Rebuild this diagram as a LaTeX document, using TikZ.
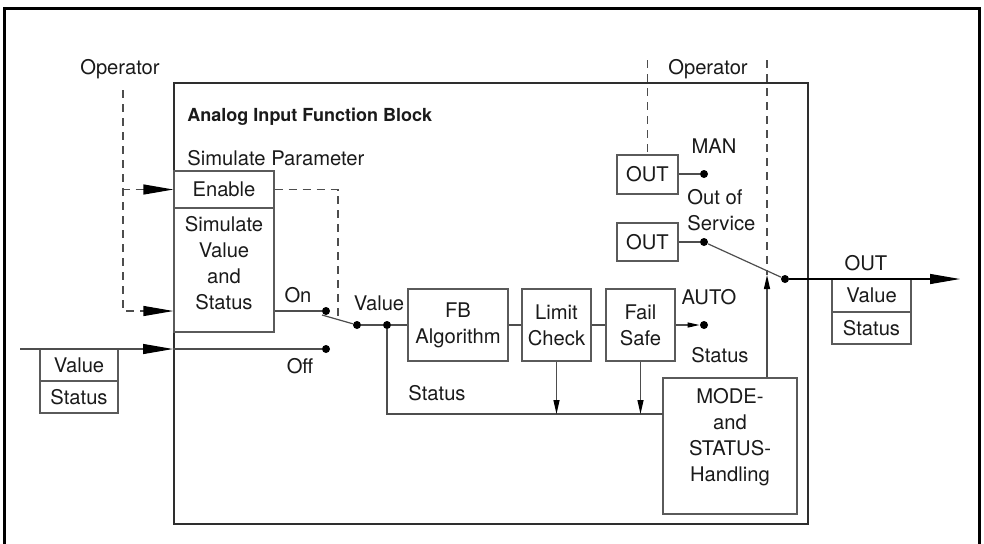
\documentclass[tikz,border=0pt]{standalone}
\usepackage{fontspec}
\setmainfont{TeX Gyre Heros}
\usetikzlibrary{arrows.meta,calc}
\definecolor{linec}{HTML}{4D4D4D}
\definecolor{boxc}{HTML}{5A5A5A}
\definecolor{blkc}{HTML}{2E2E2E}
\definecolor{txt}{HTML}{1A1A1A}
\begin{document}
\begin{tikzpicture}[x=0.5pt,y=-0.5pt,
  font=\fontsize{10.1}{13}\selectfont,
  box/.style={draw=boxc, line width=0.6pt, inner sep=0pt, align=center, text=txt},
  lbl/.style={inner sep=0pt, text=txt, align=center},
  ln/.style={draw=linec, line width=0.6pt},
  dashline/.style={draw=linec, line width=0.6pt, dash pattern=on 4pt off 3pt},
  dotn/.style={circle, fill=black, inner sep=0pt, minimum size=4pt},
  bigarrow/.style={-{Triangle[length=15pt,width=5pt,color=black]}},
  smallarrow/.style={-{Triangle[length=7pt,width=3pt,color=black]}},
  tinyarrow/.style={-{Triangle[length=6pt,width=2.5pt,color=black]}}]
\useasboundingbox (0,0) rectangle (984,543);
% outer frame
\draw[line width=1.5pt] (4,560) -- (4,8) -- (979,8) -- (979,560);
% inner block
\node[draw=blkc, line width=1pt, minimum width=317pt, minimum height=220.5pt, inner sep=0pt] (blk) at (491,303.5) {};
% boxes
\node[box, minimum width=50pt, minimum height=18.5pt] (enable) at (224,189.5) {Enable};
\node[box, minimum width=50pt, minimum height=62pt] (sim) at (224,270) {};
\node[lbl] (simt) at (224,263) {Simulate\\Value\\and\\Status};
\node[box, minimum width=39pt, minimum height=16pt] (inval) at (79,365) {Value};
\node[box, minimum width=39pt, minimum height=16pt] (instat) at (79,397) {Status};
\node[box, minimum width=50pt, minimum height=36pt] (fb) at (458,325) {FB\\Algorithm};
\node[box, minimum width=34.5pt, minimum height=36pt] (lim) at (556.5,325) {Limit\\Check};
\node[box, minimum width=34.5pt, minimum height=36pt] (fail) at (640.5,325) {Fail\\Safe};
\node[box, minimum width=67pt, minimum height=68pt] (mode) at (730,446) {};
\node[lbl] (modet) at (730,437) {MODE-\\and\\STATUS-\\Handling};
\node[box, minimum width=30.5pt, minimum height=19.5pt] (out1) at (647.5,174.5) {OUT};
\node[box, minimum width=30.5pt, minimum height=19pt] (out2) at (647.5,242) {OUT};
\node[box, minimum width=39.5pt, minimum height=16.5pt] (outval) at (871.5,295.5) {Value};
\node[box, minimum width=39.5pt, minimum height=16pt] (outstat) at (871.5,328) {Status};
% labels
\node[lbl, font=\fontsize{9}{11}\selectfont\bfseries, anchor=west] (title) at (187,117) {Analog Input Function Block};
\node[lbl, anchor=west] (simpar) at (187,158) {Simulate Parameter};
\node[lbl] (opl) at (120,69) {Operator};
\node[lbl] (opr) at (708,69) {Operator};
\node[lbl] (onl) at (298,295) {On};
\node[lbl] (offl) at (300,366) {Off};
\node[lbl] (vall) at (379,303) {Value};
\node[lbl] (statl) at (437,393) {Status};
\node[lbl] (manl) at (714,146) {MAN};
\node[lbl, align=left, anchor=west] (oosl) at (687,210) {Out of\\Service};
\node[lbl] (autol) at (709,297) {AUTO};
\node[lbl] (stat2) at (720,355) {Status};
\node[lbl] (outl) at (866,263) {OUT};
% dots
\node[dotn] (don) at (326,311) {};
\node[dotn] (doff) at (326,349) {};
\node[dotn] (dpiv) at (357,325) {};
\node[dotn] (dval) at (387,325) {};
\node[dotn] (dman) at (704,174) {};
\node[dotn] (dsvc) at (704,242) {};
\node[dotn] (dauto) at (704,325) {};
\node[dotn] (dout) at (785,279) {};
% coordinates
\coordinate (inL) at (20,349);
\coordinate (arm1) at (322,315);
\coordinate (sj) at (663,414);
\coordinate (upt) at (767,275);
\coordinate (outT) at (960,279);
\coordinate (opLt) at (123,90);
\coordinate (dsw) at (338,317);
\coordinate (opRa) at (647.5,60);
\coordinate (opRb) at (767,60);
% connectors
\draw[ln] (sim.east |- don) -- (don);
\draw[ln, bigarrow] (inL) -- (blk.west |- doff);
\draw[ln] (blk.west |- doff) -- (doff);
\draw[ln] (arm1) -- (dpiv);
\draw[ln] (dpiv) -- (dval) -- (fb);
\draw[ln] (fb) -- (lim);
\draw[ln] (lim) -- (fail);
\draw[ln, tinyarrow] (fail) -- (dauto);
\draw[ln] (dval) |- (sj);
\draw[ln, smallarrow] (lim.south) -- (lim.south |- sj);
\draw[ln, smallarrow] (fail.south) -- (fail.south |- sj);
\draw[ln, smallarrow] (mode.north -| upt) -- (upt);
\draw[ln] (out1.east |- dman) -- (dman);
\draw[ln] (out2.east |- dsvc) -- (dsvc);
\draw[ln] (dsvc) -- (dout);
\draw[ln, draw=black, bigarrow] (dout) -- (outT);
% dashed
\draw[dashline, bigarrow] (opLt) |- (enable.west);
\draw[dashline, bigarrow] (opLt) |- (sim.west |- don);
\draw[dashline] (enable.east) -| (dsw);
\draw[dashline] (opRa) -- (out1);
\draw[dashline] (opRb) -- (upt);
\end{tikzpicture}
\end{document}
